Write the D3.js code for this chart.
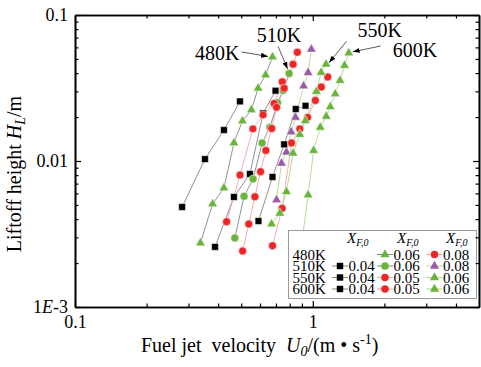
<!DOCTYPE html>
<html><head><meta charset="utf-8">
<script src="https://cdn.jsdelivr.net/npm/d3@7"></script>
<style>
body{margin:0;background:#fff;}
svg{display:block;}
text{font-family:"Liberation Serif","Times New Roman",Times,serif;}
</style>
</head><body>
<svg id="c" width="481" height="367"></svg>
<script>
// ---------- data (U0 in m/s, HL in m) ----------
const xMajor = [0.1, 1];
const xMinor = [0.2,0.3,0.4,0.5,0.6,0.7,0.8,0.9,2,3,4];
const yMajor = [0.001, 0.01, 0.1];
const yMinor = [0.002,0.003,0.004,0.005,0.006,0.007,0.008,0.009,0.02,0.03,0.04,0.05,0.06,0.07,0.08,0.09];
const xTickLabels = ["0.1", "1"];
const yTickLabels = ["1E-3", "0.01", "0.1"];

// 480K
const U_480_06 = [0.337,0.379,0.423,0.466,0.506,0.552,0.589,0.633,0.677];
const H_480_06 = [0.00274,0.00508,0.00653,0.0133,0.0188,0.0224,0.0315,0.0388,0.0516];
const U_480_08 = [0.434,0.494,0.560,0.618,0.688,0.744];
const H_480_08 = [0.00384,0.00802,0.0166,0.0207,0.0248,0.0349];
// 510K
const U_510_04 = [0.282,0.352,0.423,0.494];
const H_510_04 = [0.00484,0.0103,0.0163,0.0256];
const U_510_06 = [0.470,0.514,0.561,0.612,0.660,0.711,0.750,0.795];
const H_510_06 = [0.00297,0.00573,0.00753,0.0133,0.0170,0.0251,0.0304,0.0398];
const U_510_08 = [0.704,0.739,0.775,0.811,0.846,0.915,0.956,0.986];
const H_510_08 = [0.00541,0.00964,0.0115,0.0158,0.0199,0.0326,0.0403,0.0582];
// 550K
const U_550_04 = [0.388,0.466,0.544,0.618,0.697];
const H_550_04 = [0.00258,0.00567,0.00815,0.0212,0.0303];
const U_550_05 = [0.507,0.538,0.571,0.603,0.635,0.672,0.704,0.758,0.826,0.861];
const H_550_05 = [0.00242,0.00370,0.00569,0.00845,0.0118,0.0167,0.0233,0.0315,0.0460,0.0555];
const U_550_06 = [0.671,0.727,0.775,0.826,0.882,0.930,1.036,1.084,1.137];
const H_550_06 = [0.00370,0.00438,0.00616,0.0113,0.0152,0.0189,0.0299,0.0404,0.0460];
// 600K
const U_600_04 = [0.591,0.677,0.758,0.848,0.932];
const H_600_04 = [0.00388,0.00777,0.0130,0.0227,0.0239];
const U_600_05 = [0.677,0.743,0.814,0.882,0.951,1.025,1.086,1.156];
const H_600_05 = [0.00263,0.00474,0.0133,0.0166,0.0199,0.0260,0.0321,0.0376];
const U_600_06 = [0.890,0.956,1.008,1.075,1.139,1.184,1.243,1.302,1.360,1.416];
const H_600_06 = [0.00246,0.00585,0.0118,0.0170,0.0202,0.0235,0.0288,0.0356,0.0451,0.0549];

const tempLabels = ["480K","510K","550K","600K"];
const fracHeader = ["X","F,0"];

// ---------- styles ----------
const GREEN="#6ab43c", RED="#ee2626", PURPLE="#9a5aa6", BLACK="#000";
const GRAYL="#858585", PINKL="#f7a3a3", GREENL="#a9d98e";
const FONT = "Liberation Serif, Times New Roman, Times, serif";

const series = {
  s480a:{U:U_480_06,H:H_480_06,sym:"tri",fill:GREEN,line:GRAYL,frac:"0.06"},
  s480b:{U:U_480_08,H:H_480_08,sym:"cir",fill:RED,line:PINKL,frac:"0.08"},
  s510a:{U:U_510_04,H:H_510_04,sym:"sq",fill:BLACK,line:GRAYL,frac:"0.04"},
  s510b:{U:U_510_06,H:H_510_06,sym:"cir",fill:GREEN,line:GRAYL,frac:"0.06"},
  s510c:{U:U_510_08,H:H_510_08,sym:"tri",fill:PURPLE,line:GREENL,frac:"0.08"},
  s550a:{U:U_550_04,H:H_550_04,sym:"sq",fill:BLACK,line:GRAYL,frac:"0.04"},
  s550b:{U:U_550_05,H:H_550_05,sym:"cir",fill:RED,line:PINKL,frac:"0.05"},
  s550c:{U:U_550_06,H:H_550_06,sym:"tri",fill:GREEN,line:GREENL,frac:"0.06"},
  s600a:{U:U_600_04,H:H_600_04,sym:"sq",fill:BLACK,line:GRAYL,frac:"0.04"},
  s600b:{U:U_600_05,H:H_600_05,sym:"cir",fill:RED,line:PINKL,frac:"0.05"},
  s600c:{U:U_600_06,H:H_600_06,sym:"tri",fill:GREEN,line:GREENL,frac:"0.06"}
};
const drawOrder = ["s510c","s480a","s510a","s550a","s600a","s510b","s480b","s550b","s600b","s550c","s600c"];
const legendGrid = [
  [null,"s480a","s480b"],
  ["s510a","s510b","s510c"],
  ["s550a","s550b","s550c"],
  ["s600a","s600b","s600c"]
];
const annotations = [
  {text:"480K", key:"s480a", tip:[-4.5,-0.5], from:[-31,-5], txt:[-33,3], anchor:"end"},
  {text:"510K", key:"s510b", tip:[-1.5,-4.5], from:[-11,-27], txt:[-10,-31.5], anchor:"middle"},
  {text:"550K", key:"s550c", tip:[3,-1.6], from:[20.5,-23], txt:[31.5,-26.8], anchor:"start"},
  {text:"600K", key:"s600c", tip:[4,-1.2], from:[32,-7], txt:[44,3.7], anchor:"start"}
];

// ---------- chart ----------
const svg = d3.select("#c").attr("font-family",FONT);
const L=75, R=479, T=15, B=307;
const sx = d3.scaleLog().domain([0.1,5]).range([L,R]);
const sy = d3.scaleLog().domain([0.001,0.1]).range([B,T]);

const symType = {sq:d3.symbolSquare, cir:d3.symbolCircle, tri:d3.symbolTriangle};
const symSize = {sq:46, cir:50, tri:40};
const symPath = (k,scale=1)=>d3.symbol().type(symType[k]).size(symSize[k]*scale)();

svg.append("defs").append("marker")
  .attr("id","ah").attr("viewBox","0 0 10 10").attr("refX",10).attr("refY",5)
  .attr("markerWidth",7).attr("markerHeight",7).attr("markerUnits","userSpaceOnUse")
  .attr("orient","auto")
  .append("path").attr("d","M0,1.5L10,5L0,8.5Z").attr("fill","#000");

const lineGen = d3.line().x(d=>sx(d[0])).y(d=>sy(d[1]));
const gLines = svg.append("g"), gMarks = svg.append("g");
drawOrder.forEach(k=>{
  const s = series[k];
  const pts = s.U.map((u,i)=>[u,s.H[i]]);
  gLines.append("path").attr("d",lineGen(pts)).attr("fill","none")
    .attr("stroke",s.line).attr("stroke-width",0.9);
});
drawOrder.forEach(k=>{
  const s = series[k];
  const pts = s.U.map((u,i)=>[u,s.H[i]]);
  gMarks.selectAll(null).data(pts).enter().append("path")
    .attr("d",symPath(s.sym))
    .attr("transform",d=>`translate(${sx(d[0])},${sy(d[1])})`)
    .attr("fill",s.fill).attr("stroke","#fff").attr("stroke-width",0.5);
});

// annotations
annotations.forEach(a=>{
  const s = series[a.key];
  const n = s.U.length-1;
  const px = sx(s.U[n]), py = sy(s.H[n]);
  svg.append("line").attr("x1",px+a.from[0]).attr("y1",py+a.from[1])
    .attr("x2",px+a.tip[0]).attr("y2",py+a.tip[1])
    .attr("stroke","#333").attr("stroke-width",0.8).attr("marker-end","url(#ah)");
  svg.append("text").attr("x",px+a.txt[0]).attr("y",py+a.txt[1]).attr("font-family",FONT)
    .attr("text-anchor",a.anchor).attr("font-size",20).text(a.text);
});

// legend
const lg = svg.append("g").attr("font-family",FONT);
lg.append("rect").attr("x",288.5).attr("y",230.5).attr("width",188).attr("height",68)
  .attr("fill","#fff").attr("stroke","#9a9a9a").attr("stroke-width",1);
const colSym = [340, 385, 434.5];
const colHead = [347, 397, 446];
const rowY = [254.5, 266, 277.5, 289];
colHead.forEach(x=>{
  const t = lg.append("text").attr("x",x).attr("y",243).attr("font-size",15).attr("font-style","italic");
  t.append("tspan").text(fracHeader[0]);
  t.append("tspan").attr("font-size",10).attr("dy",2.5).text(fracHeader[1]);
});
tempLabels.forEach((lab,r)=>{
  lg.append("text").attr("x",292.5).attr("y",rowY[r]+5).attr("font-size",15).text(lab);
  legendGrid[r].forEach((k,c)=>{
    if(!k) return;
    const s = series[k], cx = colSym[c], cy = rowY[r];
    lg.append("line").attr("x1",cx-8).attr("x2",cx+8).attr("y1",cy).attr("y2",cy)
      .attr("stroke",s.line).attr("stroke-width",1);
    lg.append("path").attr("d",symPath(s.sym,0.9)).attr("transform",`translate(${cx},${cy})`)
      .attr("fill",s.fill);
    lg.append("text").attr("x",cx+8.5).attr("y",cy+5).attr("font-size",15).text(s.frac);
  });
});

// axes
function styleAxis(g){
  g.attr("font-family",FONT);
  g.selectAll(".domain").attr("stroke","#000").attr("stroke-width",1.6);
  g.selectAll(".tick line").attr("stroke","#000").attr("stroke-width",1.2);
  g.selectAll("text").attr("font-family",FONT).attr("font-size",18).attr("fill","#000");
}
const mkX = (axisFn, y, vals, size, labels) => {
  const ax = axisFn(sx).tickValues(vals).tickSize(size).tickSizeOuter(0).tickPadding(8)
    .tickFormat(labels ? ((d,i)=>labels[i]) : "");
  const g = svg.append("g").attr("transform",`translate(0,${y})`).call(ax); styleAxis(g); return g;
};
const mkY = (axisFn, x, vals, size, labels) => {
  const ax = axisFn(sy).tickValues(vals).tickSize(size).tickSizeOuter(0).tickPadding(7)
    .tickFormat(labels ? ((d,i)=>labels[i]) : "");
  const g = svg.append("g").attr("transform",`translate(${x},0)`).call(ax); styleAxis(g); return g;
};
mkX(d3.axisBottom, B, xMinor, -3.5);
mkX(d3.axisTop, T, xMinor, -3.5);
mkX(d3.axisTop, T, xMajor, -6);
mkX(d3.axisBottom, B, xMajor, -6, xTickLabels);
mkY(d3.axisLeft, L, yMinor, -3.5);
mkY(d3.axisRight, R, yMinor, -3.5);
mkY(d3.axisRight, R, yMajor, -6);
const gy = mkY(d3.axisLeft, L, yMajor, -6, yTickLabels);
gy.selectAll(".tick text").each(function(d,i){
  const t = d3.select(this), s = yTickLabels[i];
  if (s.includes("E")) {
    const [a,b] = s.split("E");
    t.text(null);
    t.append("tspan").text(a);
    t.append("tspan").attr("font-style","italic").text("E");
    t.append("tspan").text(b);
  }
});

// axis titles
const xt = svg.append("text").attr("x",141).attr("y",352).attr("font-size",20).attr("font-family",FONT);
xt.append("tspan").text("Fuel jet\u00a0\u00a0velocity\u00a0\u00a0");
xt.append("tspan").attr("font-style","italic").text("U");
xt.append("tspan").attr("font-style","italic").attr("font-size",14).attr("dy",4).text("0");
xt.append("tspan").attr("dy",-4).text("/(m \u2022 s");
xt.append("tspan").attr("font-size",14).attr("dy",-8).text("-1");
xt.append("tspan").attr("dy",8).text(")");

const yt = svg.append("text").attr("transform","translate(21,174) rotate(-90)").attr("font-family",FONT)
  .attr("text-anchor","middle").attr("font-size",20);
yt.append("tspan").text("Liftoff height ");
yt.append("tspan").attr("font-style","italic").text("H");
yt.append("tspan").attr("font-style","italic").attr("font-size",14).attr("dy",4).text("L");
yt.append("tspan").attr("dy",-4).text("/m");
</script>
</body></html>
